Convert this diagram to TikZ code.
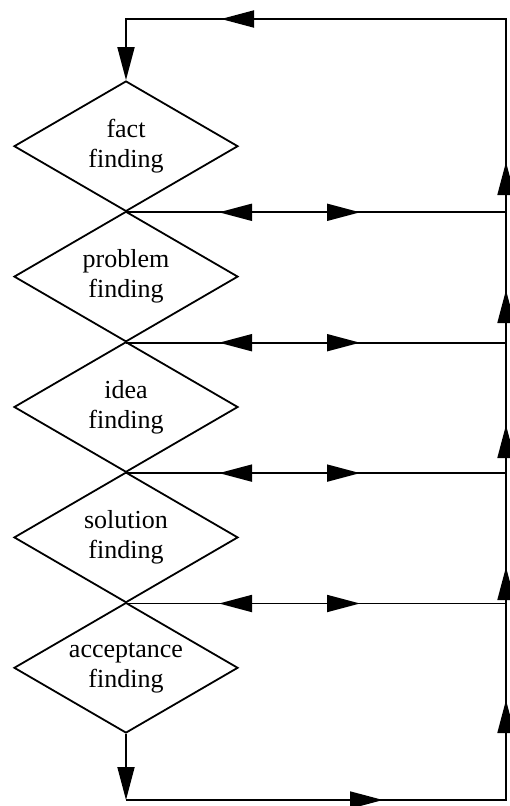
\documentclass[tikz,border=0pt]{standalone}
\usepackage{fontspec}
\setmainfont{Liberation Serif}
\usetikzlibrary{shapes.geometric,arrows.meta,decorations.markings}
\begin{document}
\begin{tikzpicture}[x=1pt,y=-1pt,
  ln/.style={line width=1.8pt},
  tri/.tip={Triangle[length=33pt,width=17pt]},
  stage/.style={diamond,draw,line width=1.8pt,minimum width=224pt,minimum height=130.4pt,
    shape aspect=1.72,inner sep=0pt,align=center,font=\fontsize{26}{30}\selectfont},
  feedback/.style={ln,postaction={decorate},decoration={markings,
    mark=at position 93pt with {\arrowreversed{tri}},
    mark=at position 234pt with {\arrow{tri}}}},
  loopline/.style={ln,-{tri},postaction={decorate},decoration={markings,
    mark=at position 257pt with {\arrow{tri}},
    mark=at position 480pt with {\arrow{tri}},
    mark=at position 613pt with {\arrow{tri}},
    mark=at position 755pt with {\arrow{tri}},
    mark=at position 890pt with {\arrow{tri}},
    mark=at position 1018pt with {\arrow{tri}},
    mark=at position 1446pt with {\arrow{tri}}}}]
\useasboundingbox (0,0) rectangle (510,806);
\node[stage] (d1) at (126,146.2) {fact\\finding};
\node[stage] (d2) at (126,276.6) {problem\\finding};
\node[stage] (d3) at (126,407.0) {idea\\finding};
\node[stage] (d4) at (126,537.4) {solution\\finding};
\node[stage] (d5) at (126,667.8) {acceptance\\finding};
\coordinate (bl) at (126,800);
\coordinate (br) at (506,800);
\coordinate (tr) at (506,19);
\coordinate (tl) at (126,19);
\draw[ln,-{tri}] (d5.south) -- (bl);
\draw[loopline] (bl) -- (br) -- (tr) -- (tl) -- (d1.north);
\draw[feedback] (d1.south) -- (d1.south -| tr);
\draw[feedback] (d2.south) -- (d2.south -| tr);
\draw[feedback] (d3.south) -- (d3.south -| tr);
\draw[feedback] (d4.south) -- (d4.south -| tr);
\end{tikzpicture}
\end{document}
